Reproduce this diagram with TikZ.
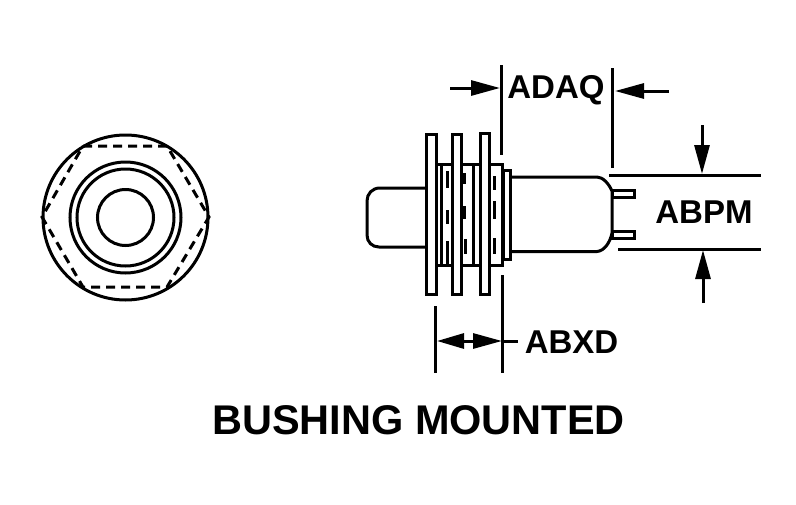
\documentclass[tikz,border=0pt]{standalone}
\usepackage{fontspec}
\setmainfont{Liberation Sans}
\usetikzlibrary{arrows.meta}
\tikzstyle{part} = 
[
	line width = 3pt,
	draw=black
]
\tikzstyle{flange} = 
[
	part,
	fill=white
]
\tikzstyle{hidden} = 
[
	line width = 3pt,
	draw=black,
	dash pattern = on 9pt off 6pt
]
\tikzstyle{extline} = [line width = 3pt,draw=black]
\tikzstyle{arrow} = [line width = 3pt,-{Triangle[length=29pt,width=15pt]}]
\tikzstyle{arrowboth} = [line width = 3pt,{Triangle[length=27pt,width=15pt]}-{Triangle[length=29pt,width=15pt]}]
\tikzstyle{dimlabel} = 
[
	font = \bfseries\fontsize{33}{33}\selectfont,
	inner sep = 0pt
]
\tikzstyle{title} = 
[
	font = \bfseries\fontsize{41.5}{41.5}\selectfont,
	inner sep = 0pt
]
\begin{document}
\begin{tikzpicture}[x=1pt,y=-1pt]
	\useasboundingbox (0,0) rectangle (796,504);

	% end view
	\draw [part] (125.5,217.5) circle [radius=82.5];
	\draw [part] (125.5,217.5) circle [radius=55.5];
	\draw [part] (125.5,217.5) circle [radius=48.5];
	\draw [part] (125.5,217.5) circle [radius=28];
	\draw [hidden] (83,146) -- (167,146) -- (209,217) -- (167,287) -- (83,287) -- (42,217) -- cycle;

	% side view
	\draw [part] (426,188) -- (380,188) .. controls (372,188) and (367,194) .. (367,201) -- (367,235)
		.. controls (367,242) and (372,247) .. (379,247) -- (426,247);
	\draw [part] (436,164) rectangle (502,265);
	\draw [part] (441,164) -- (441,265);
	\draw [part] (473,164) -- (473,265);
	\draw [part] (447,171) -- (447,188);
	\draw [part] (447,210) -- (447,224);
	\draw [part] (447,241) -- (447,264);
	\draw [part] (464,173) -- (464,184);
	\draw [part] (464,206) -- (464,219);
	\draw [part] (465,239) -- (465,254);
	\draw [part] (494,176) -- (494,190);
	\draw [part] (494,201) -- (494,219);
	\draw [part] (494,238) -- (494,254);
	\draw [flange] (426,134) rectangle (436,294);
	\draw [flange] (452.5,134) rectangle (461,294);
	\draw [flange] (480,133) rectangle (489,294);
	\draw [flange] (503,170) rectangle (510,259);
	\draw [part] (510,177) -- (597,177) .. controls (603,177) and (609,184) .. (612,191) -- (612,233)
		.. controls (610,243) and (604,251) .. (597,251.5) -- (510,251.5);
	\draw [part] (612,190) rectangle (634,197);
	\draw [part] (612,231) rectangle (634,238);

	% dimensions
	\coordinate (adaqA) at (501,65);
	\coordinate (adaqB) at (501,155);
	\coordinate (adaqC) at (612,68);
	\coordinate (adaqD) at (612,168);
	\coordinate (adaqTailL) at (450,88);
	\coordinate (adaqTipL) at (500,88);
	\coordinate (adaqTailR) at (669,91);
	\coordinate (adaqTipR) at (615,91);
	\coordinate (abpmA) at (609,175);
	\coordinate (abpmB) at (761,175);
	\coordinate (abpmC) at (618,249);
	\coordinate (abpmD) at (761,249);
	\coordinate (abpmTailT) at (702,125);
	\coordinate (abpmTipT) at (702,174);
	\coordinate (abpmTailB) at (703,303);
	\coordinate (abpmTipB) at (703,250);
	\coordinate (abxdA) at (435,306);
	\coordinate (abxdB) at (435,373);
	\coordinate (abxdC) at (502,275);
	\coordinate (abxdD) at (502,373);
	\coordinate (abxdTipL) at (437,341);
	\coordinate (abxdTipR) at (502,341);
	\coordinate (abxdTail) at (518,341);

	\draw [extline] (adaqA) -- (adaqB);
	\draw [extline] (adaqC) -- (adaqD);
	\draw [extline] (abpmA) -- (abpmB);
	\draw [extline] (abpmC) -- (abpmD);
	\draw [extline] (abxdA) -- (abxdB);
	\draw [extline] (abxdC) -- (abxdD);
	\draw [arrow] (adaqTailL) -- (adaqTipL);
	\draw [arrow] (adaqTailR) -- (adaqTipR);
	\draw [arrow] (abpmTailT) -- (abpmTipT);
	\draw [arrow] (abpmTailB) -- (abpmTipB);
	\draw [arrowboth] (abxdTipL) -- (abxdTipR);
	\draw [extline] (abxdTipR) -- (abxdTail);

	\node (adaq) [dimlabel] at (556,90) {ADAQ};
	\node (abpm) [dimlabel] at (704,212) {ABPM};
	\node (abxd) [dimlabel] at (571.5,342) {ABXD};
	\node (bushing) [title] at (418.5,420) {BUSHING MOUNTED};
\end{tikzpicture}
\end{document}
